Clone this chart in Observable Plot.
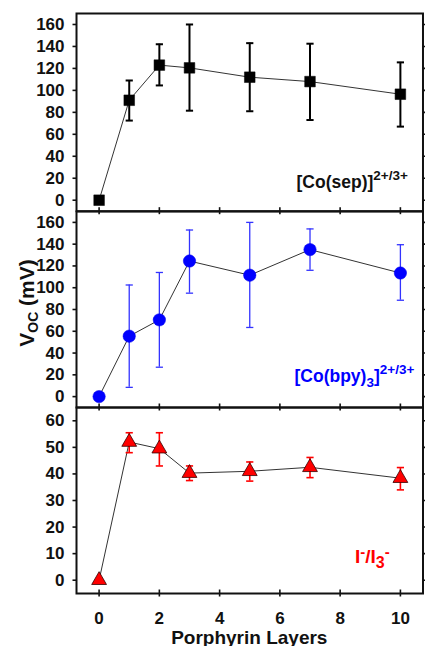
<!DOCTYPE html>
<html><head><meta charset="utf-8">
<script src="https://cdn.jsdelivr.net/npm/d3@7"></script>
<script src="https://cdn.jsdelivr.net/npm/@observablehq/plot@0.6"></script>
<style>
body{margin:0;background:#fff;}
#wrap{position:relative;width:425px;height:646px;font-family:"Liberation Sans",Arial,sans-serif;font-weight:bold;color:#111;}
.panel{position:absolute;left:0;}
.ann{position:absolute;white-space:nowrap;line-height:1;font-weight:bold;}
.ann .sup{position:relative;top:-7.7px;font-size:13.5px;}
.ann .sub{position:relative;top:5px;font-size:13.5px;}
</style></head><body><div id="wrap"></div>
<script>
// ---- data ----
const layers = [0, 1, 2, 3, 5, 7, 10];
const xTicks = [0, 2, 4, 6, 8, 10];

const sepValue = [0, 91, 123, 120.5, 112, 108, 96.5];
const sepLow   = [null, 72.5, 104.5, 81.5, 81, 73, 67];
const sepHigh  = [null, 109, 142, 160, 143, 142.5, 125.5];

const bpyValue = [0, 55.5, 70.5, 124.5, 111.5, 135, 113.5];
const bpyLow   = [null, 8.5, 27, 95, 63.5, 116, 88.5];
const bpyHigh  = [null, 102.5, 114, 153, 160, 154, 139.5];

const iodValue = [0, 52, 49.5, 40.3, 41, 42.5, 38.4];
const iodLow   = [null, 48, 43, 37.5, 37.3, 38.6, 34];
const iodHigh  = [null, 55.5, 55.5, 43, 44.5, 46.2, 42.4];

const ticksVoc = [0, 20, 40, 60, 80, 100, 120, 140, 160];
const ticksIod = [0, 10, 20, 30, 40, 50, 60];

// ---- helpers ----
const cap = {draw(ctx, size) { const w = Math.sqrt(size / Math.PI); ctx.moveTo(-w, 0); ctx.lineTo(w, 0); }};
const rows = (v, lo, hi) => layers.map((x, i) => ({x, y: v[i], lo: lo[i], hi: hi[i]}));

const wrap = document.getElementById("wrap");

function panel(o) {
  const data = rows(o.value, o.low, o.high);
  const err = data.filter(d => d.lo != null);
  const plotH = o.height - o.mt - o.mb;
  const svg = Plot.plot({
    width: 425, height: o.height,
    marginLeft: 76, marginRight: 2.5, marginTop: o.mt, marginBottom: o.mb,
    style: {background: "none", fontFamily: '"Liberation Sans", Arial, sans-serif', fontSize: "17px", fontWeight: "bold", color: "#111", overflow: "visible"},
    x: {domain: [-0.75, 10.75]},
    y: {domain: o.domain},
    marks: [
      Plot.axisY({ticks: o.ticks, tickSize: 3.5, tickPadding: 8.5, label: null, strokeWidth: 1.6}),
      Plot.axisY({ticks: o.ticks, anchor: "right", tickSize: 3, tickFormat: () => "", label: null, strokeWidth: 1.6}),
      Plot.axisX({ticks: xTicks, tickSize: 3.5, tickPadding: 15, tickFormat: o.xLabels ? (d => d) : (() => ""), label: null, strokeWidth: 1.6}),
      Plot.tickX(xTicks, {x: d => d, insetTop: plotH - 3.5, strokeWidth: 1.6}),
      Plot.frame({strokeWidth: 2}),
      Plot.line(data, {x: "x", y: "y", stroke: "#333", strokeWidth: 1}),
      Plot.ruleX(err, {x: "x", y1: "lo", y2: "hi", stroke: o.errColor, strokeWidth: o.errWidth}),
      Plot.dot(err, {x: "x", y: "lo", symbol: cap, r: 3.6, stroke: o.errColor, strokeWidth: o.errWidth}),
      Plot.dot(err, {x: "x", y: "hi", symbol: cap, r: 3.6, stroke: o.errColor, strokeWidth: o.errWidth}),
      Plot.dot(data, {x: "x", y: "y", symbol: o.symbol, r: o.r, fill: o.fill, stroke: o.stroke, strokeWidth: o.strokeWidth})
    ]
  });
  const div = document.createElement("div");
  div.className = "panel";
  div.style.top = o.top + "px";
  div.appendChild(svg);
  wrap.appendChild(div);
}

panel({top: 0, height: 214.7, mt: 13, mb: 4, domain: [-10, 170], ticks: ticksVoc,
  value: sepValue, low: sepLow, high: sepHigh, errColor: "#000", errWidth: 2,
  symbol: "square", r: 6, fill: "#000", stroke: "#000", strokeWidth: 0.5});
panel({top: 206.7, height: 204, mt: 4, mb: 4, domain: [-10, 170], ticks: ticksVoc,
  value: bpyValue, low: bpyLow, high: bpyHigh, errColor: "#3333ff", errWidth: 1.3,
  symbol: "circle", r: 6.2, fill: "#0000ff", stroke: "#0000ee", strokeWidth: 0.5});
panel({top: 402.7, height: 220, mt: 4, mb: 30, domain: [-5, 65], ticks: ticksIod, xLabels: true,
  value: iodValue, low: iodLow, high: iodHigh, errColor: "#ff0000", errWidth: 1.6,
  symbol: "triangle", r: 5.5, fill: "#ff0000", stroke: "#330000", strokeWidth: 0.8});

// ---- text labels ----
function addHTML(html, css) {
  const d = document.createElement("div");
  d.className = "ann";
  d.innerHTML = html;
  Object.assign(d.style, css);
  wrap.appendChild(d);
}
addHTML('[Co(sep)]<span class="sup">2+/3+</span>', {left: "296.5px", top: "173.5px", fontSize: "17.5px", color: "#111"});
addHTML('[Co(bpy)<span class="sub">3</span>]<span class="sup">2+/3+</span>', {left: "294.5px", top: "367.5px", fontSize: "17.5px", color: "#0000ff"});
addHTML('I<span class="sup" style="font-size:15px;top:-6px">-</span>/I<span class="sub" style="font-size:16px">3</span><span class="sup" style="font-size:15px;top:-6px">-</span>',
  {left: "355px", top: "546.5px", fontSize: "19px", color: "#ff0000"});
addHTML('V<span class="sub" style="font-size:14px;top:4px">OC</span> (mV)',
  {left: "25.7px", top: "303px", fontSize: "21px", color: "#111", transform: "translate(-50%,-50%) rotate(-90deg)"});
addHTML('Porphyrin Layers', {left: "249.3px", top: "627.5px", fontSize: "19px", color: "#111", transform: "translateX(-50%)"});
</script></body></html>
